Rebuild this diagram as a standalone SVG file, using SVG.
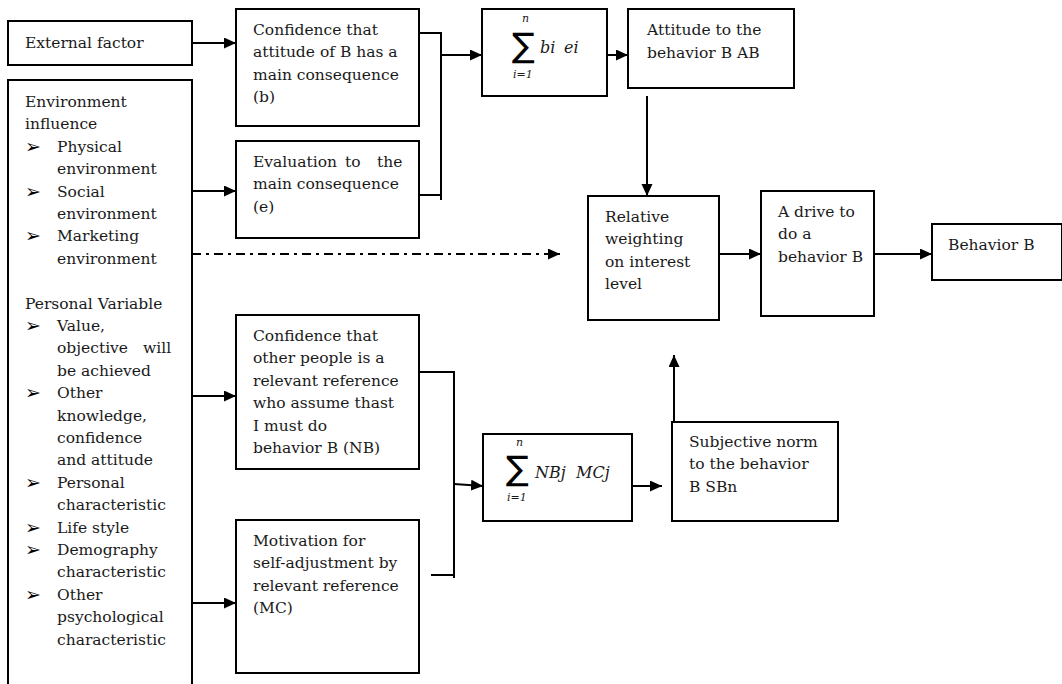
<svg xmlns="http://www.w3.org/2000/svg" width="1062" height="684" viewBox="0 0 1062 684">
<defs>
<marker id="ah" markerUnits="userSpaceOnUse" markerWidth="13" markerHeight="12" refX="12" refY="5.5" orient="auto">
<path d="M0,0 L12,5.5 L0,11 z" fill="#000"/>
</marker>
<style>
.box{fill:#fff;stroke:#000;stroke-width:2}
.t{font-family:"DejaVu Serif","Liberation Serif",serif;font-size:15.5px;fill:#1a1a1a}
.b{font-family:"DejaVu Sans",sans-serif;font-size:19px;fill:#000}
.m{font-family:"DejaVu Serif","Liberation Serif",serif;font-style:italic;fill:#1a1a1a}
.s{font-family:"DejaVu Sans",sans-serif;font-size:34px;fill:#000}
.c{fill:none;stroke:#000;stroke-width:2}
.a{fill:none;stroke:#000;stroke-width:2;marker-end:url(#ah)}
</style>
</defs>
<rect width="1062" height="684" fill="#fff"/>

<g id="connectors">
<line class="a" x1="192" y1="43" x2="236" y2="43"/>
<line class="a" x1="192" y1="191" x2="236" y2="191"/>
<line class="a" x1="192" y1="396" x2="236" y2="396"/>
<line class="a" x1="192" y1="603" x2="236" y2="603"/>
<polyline class="c" points="419,33 441,33 441,200"/>
<line class="c" x1="419" y1="195" x2="441" y2="195"/>
<line class="a" x1="441" y1="55" x2="482" y2="55"/>
<line class="a" x1="607" y1="55" x2="628" y2="55"/>
<line class="a" x1="647" y1="96" x2="647" y2="196"/>
<line class="a" x1="192" y1="254" x2="560" y2="254" stroke-dasharray="9 5 3 5"/>
<line class="a" x1="719" y1="254" x2="761" y2="254"/>
<line class="a" x1="874" y1="254" x2="932" y2="254"/>
<polyline class="c" points="419,372 454,372 454,578"/>
<line class="c" x1="431" y1="575" x2="454" y2="575"/>
<line class="a" x1="454" y1="484" x2="483" y2="486"/>
<line class="a" x1="632" y1="486" x2="662" y2="486"/>
<line class="a" x1="674" y1="422" x2="674" y2="355"/>
</g>

<g id="external">
<rect class="box" x="8" y="21" width="184" height="44"/>
<text class="t" x="25" y="48">External factor</text>
</g>

<g id="influences">
<rect class="box" x="8" y="80" width="184" height="612"/>
<text class="t" x="25" y="107">Environment</text>
<text class="t" x="25" y="129.4">influence</text>
<text class="b" x="25" y="152.8">➢</text><text class="t" x="57" y="151.8">Physical</text>
<text class="t" x="57" y="174.2">environment</text>
<text class="b" x="25" y="197.6">➢</text><text class="t" x="57" y="196.6">Social</text>
<text class="t" x="57" y="219">environment</text>
<text class="b" x="25" y="242.4">➢</text><text class="t" x="57" y="241.4">Marketing</text>
<text class="t" x="57" y="263.8">environment</text>
<text class="t" x="25" y="308.6">Personal Variable</text>
<text class="b" x="25" y="332">➢</text><text class="t" x="57" y="331">Value,</text>
<text class="t" x="57" y="353.4">objective</text><text class="t" x="143" y="353.4">will</text>
<text class="t" x="57" y="375.8">be achieved</text>
<text class="b" x="25" y="399.2">➢</text><text class="t" x="57" y="398.2">Other</text>
<text class="t" x="57" y="420.6">knowledge,</text>
<text class="t" x="57" y="443">confidence</text>
<text class="t" x="57" y="465.4">and attitude</text>
<text class="b" x="25" y="488.8">➢</text><text class="t" x="57" y="487.8">Personal</text>
<text class="t" x="57" y="510.2">characteristic</text>
<text class="b" x="25" y="533.6">➢</text><text class="t" x="57" y="532.6">Life style</text>
<text class="b" x="25" y="556">➢</text><text class="t" x="57" y="555">Demography</text>
<text class="t" x="57" y="577.4">characteristic</text>
<text class="b" x="25" y="600.8">➢</text><text class="t" x="57" y="599.8">Other</text>
<text class="t" x="57" y="622.2">psychological</text>
<text class="t" x="57" y="644.6">characteristic</text>
</g>

<g id="belief">
<rect class="box" x="236" y="9" width="183" height="117"/>
<text class="t" x="253" y="35">Confidence that</text>
<text class="t" x="253" y="57.4">attitude of B has a</text>
<text class="t" x="253" y="79.8">main consequence</text>
<text class="t" x="253" y="102.2">(b)</text>
</g>

<g id="evaluation">
<rect class="box" x="236" y="141" width="183" height="97"/>
<text class="t" x="253" y="167">Evaluation</text><text class="t" x="345" y="167">to</text><text class="t" x="377" y="167">the</text>
<text class="t" x="253" y="189.4">main consequence</text>
<text class="t" x="253" y="211.8">(e)</text>
</g>

<g id="sum-be">
<rect class="box" x="482" y="9" width="125" height="87"/>
<text class="m" x="522" y="22" font-size="11">n</text>
<text class="s" x="512" y="57">∑</text>
<text class="m" x="513" y="78" font-size="11">i=1</text>
<text class="m" x="540" y="53" font-size="16">bi</text><text class="m" x="564" y="53" font-size="16">ei</text>
</g>

<g id="attitude">
<rect class="box" x="628" y="9" width="166" height="79"/>
<text class="t" x="647" y="35">Attitude to the</text>
<text class="t" x="647" y="58">behavior B AB</text>
</g>

<g id="relative">
<rect class="box" x="588" y="196" width="131" height="124"/>
<text class="t" x="605" y="222">Relative</text>
<text class="t" x="605" y="244.4">weighting</text>
<text class="t" x="605" y="266.8">on interest</text>
<text class="t" x="605" y="289.2">level</text>
</g>

<g id="drive">
<rect class="box" x="761" y="191" width="113" height="125"/>
<text class="t" x="778" y="217">A drive to</text>
<text class="t" x="778" y="239.4">do a</text>
<text class="t" x="778" y="261.8">behavior B</text>
</g>

<g id="behavior">
<rect class="box" x="932" y="224" width="130" height="56"/>
<text class="t" x="948" y="250">Behavior B</text>
</g>

<g id="normative">
<rect class="box" x="236" y="315" width="183" height="154"/>
<text class="t" x="253" y="341">Confidence that</text>
<text class="t" x="253" y="363.4">other people is a</text>
<text class="t" x="253" y="385.8">relevant reference</text>
<text class="t" x="253" y="408.2">who assume thast</text>
<text class="t" x="253" y="430.6">I must do</text>
<text class="t" x="253" y="453">behavior B (NB)</text>
</g>

<g id="motivation">
<rect class="box" x="236" y="520" width="183" height="153"/>
<text class="t" x="253" y="546">Motivation for</text>
<text class="t" x="253" y="568.4">self-adjustment by</text>
<text class="t" x="253" y="590.8">relevant reference</text>
<text class="t" x="253" y="613.2">(MC)</text>
</g>

<g id="sum-nm">
<rect class="box" x="483" y="434" width="149" height="87"/>
<text class="m" x="516" y="446" font-size="11">n</text>
<text class="s" x="506" y="480">∑</text>
<text class="m" x="507" y="501" font-size="11">i=1</text>
<text class="m" x="535" y="478" font-size="16">NBj</text><text class="m" x="576" y="478" font-size="16">MCj</text>
</g>

<g id="subjective">
<rect class="box" x="672" y="422" width="166" height="99"/>
<text class="t" x="689" y="447">Subjective norm</text>
<text class="t" x="689" y="469.4">to the behavior</text>
<text class="t" x="689" y="491.8">B SBn</text>
</g>
</svg>
